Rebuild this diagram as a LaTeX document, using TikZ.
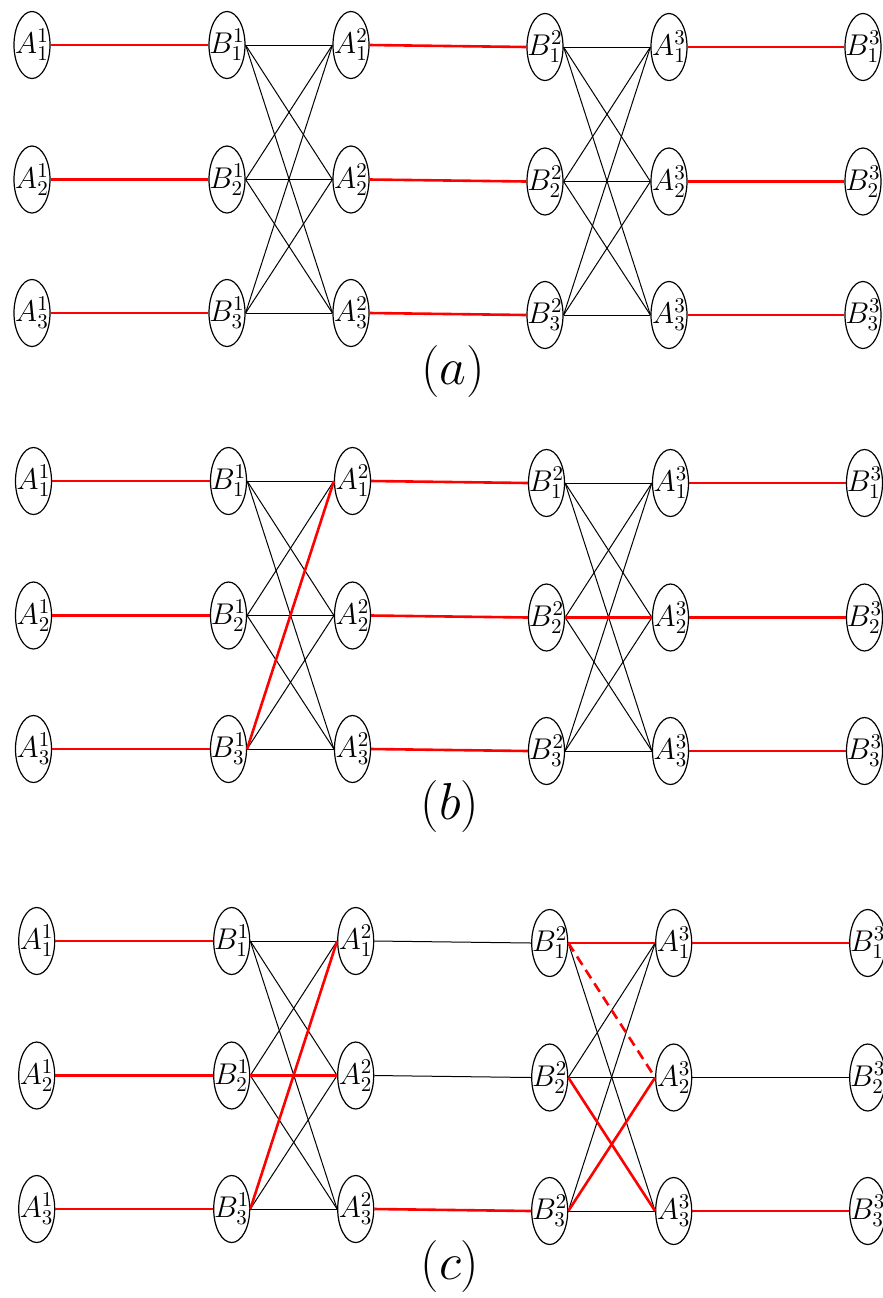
\documentclass[tikz,border=0pt]{standalone}
\usepackage{fix-cm}
\usetikzlibrary{shapes.geometric}
\newcommand\vlab[1]{\makebox[0pt]{$#1$}}
\begin{document}
\begin{tikzpicture}[x=0.5pt,y=-0.5pt,
  vtx/.style={ellipse,draw,line width=0.6pt,minimum width=18pt,minimum height=33.5pt,inner sep=0pt,font=\fontsize{15}{18}\selectfont},
  blk/.style={line width=0.5pt,black},
  redl/.style={line width=1.3pt,red},
  redd/.style={line width=1.3pt,red,dash pattern=on 5pt off 3pt},
  sublbl/.style={font=\fontsize{26}{31}\selectfont}]
\useasboundingbox (0,0) rectangle (883,1298);

% nodes
\foreach \p/\dx/\yl/\yr in {a/0/45/47, b/1.5/481/483, c/4.7/941/943}{
  \foreach \i/\dy in {1/0, 2/134.5, 3/268}{
    \node[vtx] (\p A1\i) at (32+\dx, \yl+\dy) {\vlab{A^1_{\i}}};
    \node[vtx] (\p B1\i) at (227+\dx, \yl+\dy) {\vlab{B^1_{\i}}};
    \node[vtx] (\p A2\i) at (351+\dx, \yl+\dy) {\vlab{A^2_{\i}}};
    \node[vtx] (\p B2\i) at (545+\dx, \yr+\dy) {\vlab{B^2_{\i}}};
    \node[vtx] (\p A3\i) at (669+\dx, \yr+\dy) {\vlab{A^3_{\i}}};
    \node[vtx] (\p B3\i) at (863+\dx, \yr+\dy) {\vlab{B^3_{\i}}};
  }
}

% panel (a)
\foreach \i in {1,2,3}{
  \foreach \j in {1,2,3}{
    \draw[blk] (aB1\i.east) -- (aA2\j.west);
    \draw[blk] (aB2\i.east) -- (aA3\j.west);
  }
  \draw[redl] (aA1\i.east) -- (aB1\i.west);
  \draw[redl] (aA2\i.east) -- (aB2\i.west);
  \draw[redl] (aA3\i.east) -- (aB3\i.west);
}

% panel (b)
\foreach \i/\j in {1/1,1/2,1/3,2/1,2/2,2/3,3/2,3/3}
  \draw[blk] (bB1\i.east) -- (bA2\j.west);
\foreach \i/\j in {1/1,1/2,1/3,2/1,2/3,3/1,3/2,3/3}
  \draw[blk] (bB2\i.east) -- (bA3\j.west);
\foreach \i in {1,2,3}{
  \draw[redl] (bA1\i.east) -- (bB1\i.west);
  \draw[redl] (bA2\i.east) -- (bB2\i.west);
  \draw[redl] (bA3\i.east) -- (bB3\i.west);
}
\draw[redl] (bB13.east) -- (bA21.west);
\draw[redl] (bB22.east) -- (bA32.west);

% panel (c)
\foreach \i/\j in {1/1,1/2,1/3,2/1,2/3,3/2,3/3}
  \draw[blk] (cB1\i.east) -- (cA2\j.west);
\draw[blk] (cA21.east) -- (cB21.west);
\draw[blk] (cA22.east) -- (cB22.west);
\foreach \i/\j in {1/3,2/1,2/2,3/1,3/3}
  \draw[blk] (cB2\i.east) -- (cA3\j.west);
\draw[blk] (cA32.east) -- (cB32.west);
\foreach \i in {1,2,3}
  \draw[redl] (cA1\i.east) -- (cB1\i.west);
\draw[redl] (cB13.east) -- (cA21.west);
\draw[redl] (cB12.east) -- (cA22.west);
\draw[redl] (cA23.east) -- (cB23.west);
\draw[redl] (cB21.east) -- (cA31.west);
\draw[redl] (cB22.east) -- (cA33.west);
\draw[redl] (cB23.east) -- (cA32.west);
\draw[redd] (cB21.east) -- (cA32.west);
\draw[redl] (cA31.east) -- (cB31.west);
\draw[redl] (cA33.east) -- (cB33.west);

% sub-labels
\node[sublbl] (la) at (453,371) {$(a)$};
\node[sublbl] (lb) at (450,806) {$(b)$};
\node[sublbl] (lc) at (450,1266) {$(c)$};
\end{tikzpicture}
\end{document}
